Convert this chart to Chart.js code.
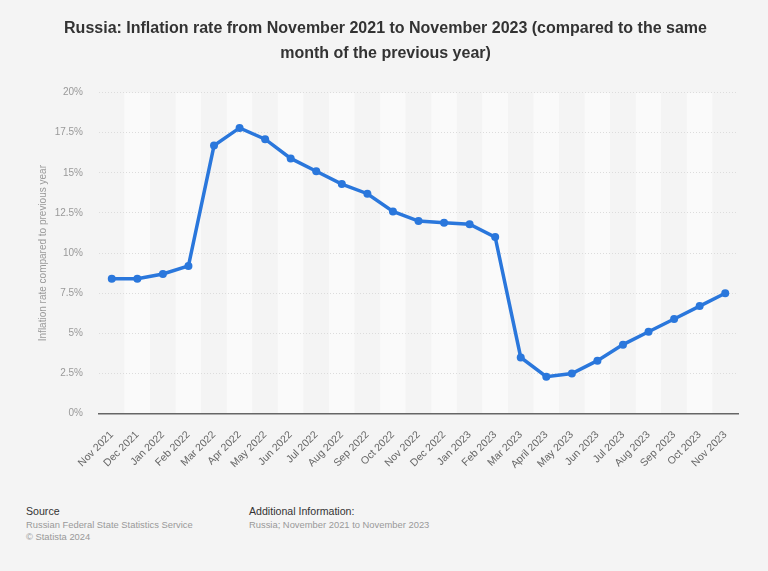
<!DOCTYPE html>
<html>
<head>
<meta charset="utf-8">
<script src="https://cdn.jsdelivr.net/npm/chart.js@4"></script>
<style>
  html, body { margin: 0; padding: 0; background: #f4f4f4; }
  body { width: 768px; height: 571px; position: relative; overflow: hidden; font-family: "Liberation Sans", Arial, sans-serif; }
  #wrap { position: absolute; left: 0; top: 0; width: 768px; height: 478px; }
  .foot { position: absolute; font-size: 9.4px; line-height: 12.5px; color: #999; }
  .foot b { font-weight: normal; color: #333; font-size: 10.6px; }
</style>
</head>
<body>
<div id="wrap"><canvas id="chart"></canvas></div>
<div class="foot" style="left:26px; top:505px;"><b>Source</b><br>Russian Federal State Statistics Service<br>© Statista 2024</div>
<div class="foot" style="left:249px; top:505px;"><b>Additional Information:</b><br>Russia; November 2021 to November 2023</div>
<script>
// 数据
const months = ['Nov 2021', 'Dec 2021', 'Jan 2022', 'Feb 2022', 'Mar 2022', 'Apr 2022', 'May 2022',
  'Jun 2022', 'Jul 2022', 'Aug 2022', 'Sep 2022', 'Oct 2022', 'Nov 2022', 'Dec 2022', 'Jan 2023',
  'Feb 2023', 'Mar 2023', 'April 2023', 'May 2023', 'Jun 2023', 'Jul 2023', 'Aug 2023', 'Sep 2023',
  'Oct 2023', 'Nov 2023'];
const inflation = [8.4, 8.4, 8.7, 9.2, 16.7, 17.8, 17.1, 15.9, 15.1, 14.3, 13.7, 12.6, 12.0, 11.9,
  11.8, 11.0, 3.5, 2.3, 2.5, 3.3, 4.3, 5.1, 5.9, 6.7, 7.5];
const yTicks = [0, 2.5, 5, 7.5, 10, 12.5, 15, 17.5, 20];

const blue = '#2a77dc';
const FONT = '"Liberation Sans", Arial, sans-serif';

// 交替列背景
const bandPlugin = {
  id: 'bands',
  beforeDraw(chart) {
    const { ctx, chartArea, scales } = chart;
    const x = scales.x;
    const step = x.getPixelForValue(1) - x.getPixelForValue(0);
    ctx.save();
    months.forEach((m, i) => {
      const cx = x.getPixelForValue(i);
      ctx.fillStyle = i % 2 === 1 ? '#fafafa' : '#f4f4f4';
      ctx.fillRect(cx - step / 2, chartArea.top, step, chartArea.bottom - chartArea.top);
    });
    ctx.restore();
  }
};

new Chart(document.getElementById('chart').getContext('2d'), {
  type: 'line',
  data: {
    labels: months,
    datasets: [{
      data: inflation,
      borderColor: blue,
      backgroundColor: blue,
      borderWidth: 3.5,
      pointRadius: 4,
      pointBackgroundColor: blue,
      pointBorderWidth: 0,
      tension: 0
    }]
  },
  options: {
    responsive: true,
    maintainAspectRatio: false,
    animation: false,
    layout: { padding: { left: 33, right: 30, top: 0, bottom: 0 } },
    plugins: {
      legend: { display: false },
      tooltip: { enabled: false },
      title: {
        display: true,
        text: ['Russia: Inflation rate from November 2021 to November 2023 (compared to the same',
               'month of the previous year)'],
        color: '#333',
        font: { family: FONT, size: 16, weight: 'bold', lineHeight: 1.55 },
        padding: { top: 16, bottom: 27 }
      }
    },
    scales: {
      x: {
        offset: true,
        grid: { display: false },
        border: { display: true, color: '#666', width: 1.5 },
        ticks: {
          color: '#666',
          minRotation: 45,
          maxRotation: 45,
          autoSkip: false,
          padding: 7,
          font: { family: FONT, size: 10.5 }
        }
      },
      y: {
        min: 0,
        max: 20,
        afterBuildTicks(axis) { axis.ticks = yTicks.map(v => ({ value: v })); },
        afterFit(scale) { scale.width = 66; },
        grid: { color: '#dcdcdc', lineWidth: 1, drawTicks: false },
        border: { display: false, dash: [1, 2] },
        ticks: {
          color: '#999',
          padding: 16,
          font: { family: FONT, size: 10 },
          callback: v => v + '%'
        },
        title: {
          display: true,
          text: 'Inflation rate compared to previous year',
          color: '#999',
          font: { family: FONT, size: 10 },
          padding: { top: 4, bottom: 4 }
        }
      }
    }
  },
  plugins: [bandPlugin]
});
</script>
</body>
</html>
